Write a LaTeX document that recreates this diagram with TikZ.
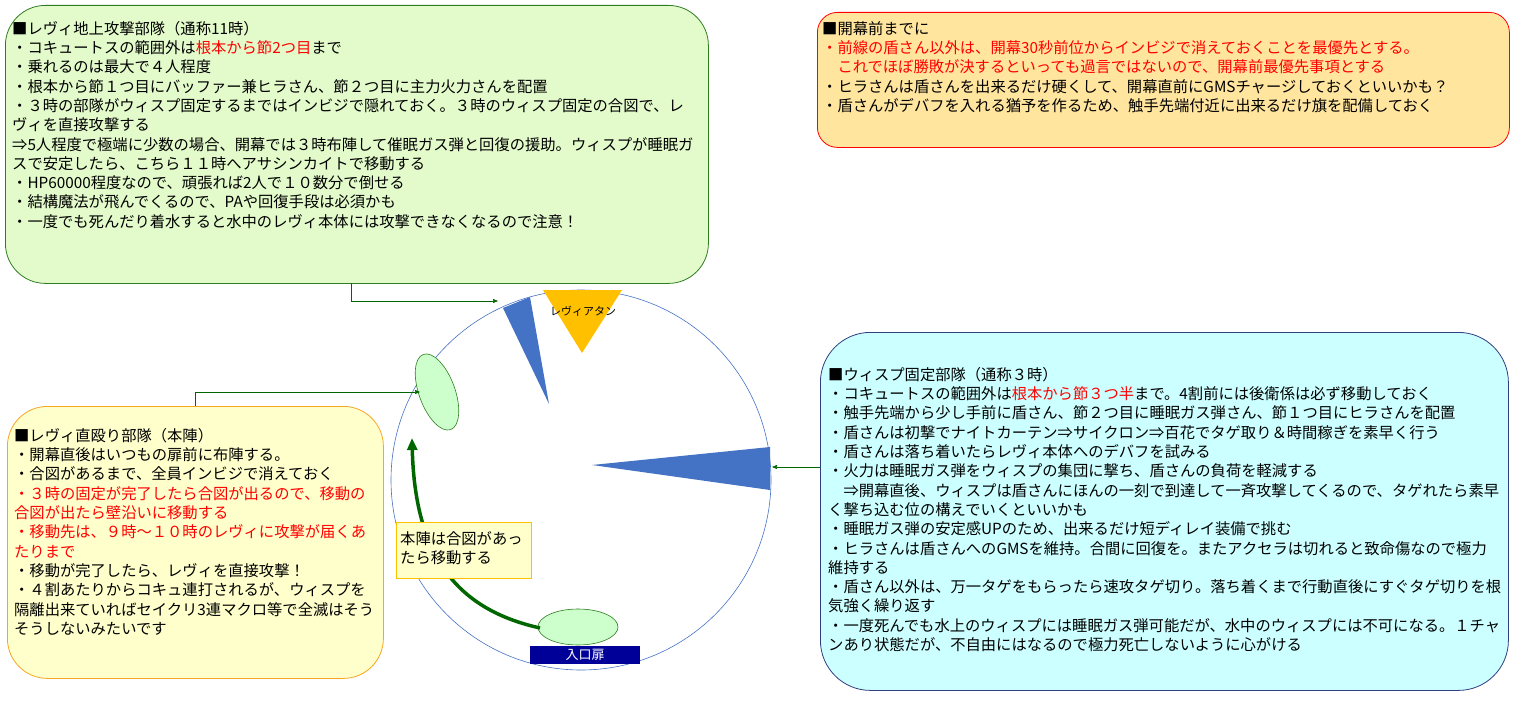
\documentclass[tikz,border=0pt]{standalone}
\usepackage{fontspec}
\setmainfont{Noto Sans CJK JP}
\usetikzlibrary{arrows.meta}
\definecolor{gfill}{HTML}{E3FBCB}
\definecolor{gline}{HTML}{2E7D1E}
\definecolor{ofill}{HTML}{FFE59E}
\definecolor{cfill}{HTML}{CCFFFF}
\definecolor{cline}{HTML}{2F3F7F}
\definecolor{yfill}{HTML}{FFFFCC}
\definecolor{yline}{HTML}{F5A623}
\definecolor{wblue}{HTML}{4472C4}
\definecolor{tri}{HTML}{FFC000}
\definecolor{ell}{HTML}{CCFFCC}
\definecolor{arr}{HTML}{006600}
\definecolor{rd}{HTML}{FF0000}
\tikzset{
 panel/.style={draw, line width=0.8pt, anchor=north west, inner sep=0pt},
 txt/.style={anchor=north west, inner sep=0pt, align=left, font=\fontsize{15.3}{19.3}\selectfont},
 conn/.style={draw=arr, line width=0.6pt, -{Triangle[length=5pt,width=4pt]}},
}
\begin{document}
\begin{tikzpicture}[x=1pt,y=-1pt]
\useasboundingbox (0,0) rectangle (1527,701);
% panels
\node (gbox) [panel, draw=gline, fill=gfill, rounded corners=40pt, minimum width=703pt, minimum height=278pt] at (5,5) {};
\node (obox) [panel, draw=rd, fill=ofill, rounded corners=20pt, minimum width=692pt, minimum height=135pt] at (817,12) {};
\node (cbox) [panel, draw=cline, fill=cfill, rounded corners=50pt, minimum width=688pt, minimum height=358pt] at (820,332) {};
\node (ybox) [panel, draw=yline, fill=yfill, rounded corners=40pt, minimum width=376pt, minimum height=272pt] at (7,406) {};
% arena
\node (arena) [draw=wblue, line width=0.6pt, circle, minimum size=380pt, inner sep=0pt] at (581,480) {};
\fill[wblue] (503,308) -- (530,297) -- (549,404) -- cycle;
\fill[wblue] (770,447) -- (770,490) -- (592,465) -- cycle;
\fill[tri] (543,290) -- (622,290) -- (582,353) -- cycle;
\node (levi) [font=\fontsize{11}{12}\selectfont, inner sep=0pt] at (583,311) {レヴィアタン};
\draw[draw=gline, fill=ell, line width=0.6pt, rotate around={20:(437,392)}] (437,392) ellipse (18 and 40);
\coordinate (e1c) at (420,392);
\draw[draw=gline, fill=ell, line width=0.6pt] (578,627) ellipse (40 and 18);
\coordinate (e2c) at (540,628);
\node (door) [fill={rgb,255:red,0;green,0;blue,153}, text=white, minimum width=110pt, minimum height=18pt, inner sep=0pt, anchor=north west, font=\fontsize{13}{14}\selectfont] at (530,646) {入口扉};
\coordinate (uptip) at (412,438);
\draw[arr, line width=3.5pt, -{Triangle[length=12pt,width=10pt]}] (e2c) .. controls (460,610) and (415,560) .. (uptip);
% small note
\node (note) [panel, draw=tri, fill=yfill, minimum width=135pt, minimum height=56pt, line width=0.6pt] at (396,522) {};
\node (notet) [txt] at (400,531) {本陣は合図があっ\\たら移動する};
% connectors
\coordinate (g1) at (351,283);
\coordinate (g2) at (498,301);
\draw[conn] (g1) |- (g2);
\coordinate (y1) at (195,406);
\draw[conn] (y1) |- (e1c);
\coordinate (c1) at (820,467);
\coordinate (c2) at (772,467);
\draw[conn] (c1) -- (c2);
% texts
\node (gtext) [txt] at (12,21) {■レヴィ地上攻撃部隊（通称11時）\\
・コキュートスの範囲外は\textcolor{rd}{根本から節2つ目}まで\\
・乗れるのは最大で４人程度\\
・根本から節１つ目にバッファー兼ヒラさん、節２つ目に主力火力さんを配置\\
・３時の部隊がウィスプ固定するまではインビジで隠れておく。３時のウィスプ固定の合図で、レ\\
ヴィを直接攻撃する\\
⇒5人程度で極端に少数の場合、開幕では３時布陣して催眠ガス弾と回復の援助。ウィスプが睡眠ガ\\
スで安定したら、こちら１１時へアサシンカイトで移動する\\
・HP60000程度なので、頑張れば2人で１０数分で倒せる\\
・結構魔法が飛んでくるので、PAや回復手段は必須かも\\
・一度でも死んだり着水すると水中のレヴィ本体には攻撃できなくなるので注意！};
\node (otext) [txt] at (822,21) {■開幕前までに\\
\textcolor{rd}{・前線の盾さん以外は、開幕30秒前位からインビジで消えておくことを最優先とする。}\\
\textcolor{rd}{　これでほぼ勝敗が決するといっても過言ではないので、開幕前最優先事項とする}\\
・ヒラさんは盾さんを出来るだけ硬くして、開幕直前にGMSチャージしておくといいかも？\\
・盾さんがデバフを入れる猶予を作るため、触手先端付近に出来るだけ旗を配備しておく};
\node (ctext) [txt] at (828,367) {■ウィスプ固定部隊（通称３時）\\
・コキュートスの範囲外は\textcolor{rd}{根本から節３つ半}まで。4割前には後衛係は必ず移動しておく\\
・触手先端から少し手前に盾さん、節２つ目に睡眠ガス弾さん、節１つ目にヒラさんを配置\\
・盾さんは初撃でナイトカーテン⇒サイクロン⇒百花でタゲ取り＆時間稼ぎを素早く行う\\
・盾さんは落ち着いたらレヴィ本体へのデバフを試みる\\
・火力は睡眠ガス弾をウィスプの集団に撃ち、盾さんの負荷を軽減する\\
　⇒開幕直後、ウィスプは盾さんにほんの一刻で到達して一斉攻撃してくるので、タゲれたら素早\\
く撃ち込む位の構えでいくといいかも\\
・睡眠ガス弾の安定感UPのため、出来るだけ短ディレイ装備で挑む\\
・ヒラさんは盾さんへのGMSを維持。合間に回復を。またアクセラは切れると致命傷なので極力\\
維持する\\
・盾さん以外は、万一タゲをもらったら速攻タゲ切り。落ち着くまで行動直後にすぐタゲ切りを根\\
気強く繰り返す\\
・一度死んでも水上のウィスプには睡眠ガス弾可能だが、水中のウィスプには不可になる。１チャ\\
ンあり状態だが、不自由にはなるので極力死亡しないように心がける};
\node (ytext) [txt] at (14,428) {■レヴィ直殴り部隊（本陣）\\
・開幕直後はいつもの扉前に布陣する。\\
・合図があるまで、全員インビジで消えておく\\
\textcolor{rd}{・３時の固定が完了したら合図が出るので、移動の}\\
\textcolor{rd}{合図が出たら壁沿いに移動する}\\
\textcolor{rd}{・移動先は、９時～１０時のレヴィに攻撃が届くあ}\\
\textcolor{rd}{たりまで}\\
・移動が完了したら、レヴィを直接攻撃！\\
・４割あたりからコキュ連打されるが、ウィスプを\\
隔離出来ていればセイクリ3連マクロ等で全滅はそう\\
そうしないみたいです};
\end{tikzpicture}
\end{document}
